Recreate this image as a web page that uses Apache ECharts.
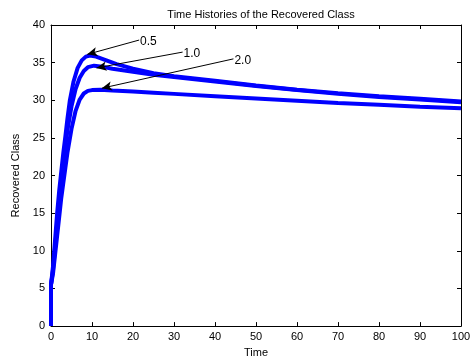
<!DOCTYPE html>
<html>
<head>
<meta charset="utf-8">
<script src="https://cdn.jsdelivr.net/npm/echarts@6/dist/echarts.min.js"></script>
<style>
  html, body { margin: 0; padding: 0; background: #fff; }
  #chart { width: 475px; height: 363px; }
</style>
</head>
<body>
<div id="chart"></div>
<script>
// time points and recovered class values
const t05 = [0, 0, 0.5, 1, 1.5, 2, 2.5, 3, 3.5, 4, 4.6, 5.5, 6.5, 7.5, 8.5, 9.5, 11, 13, 16, 20, 25, 30, 40, 50, 60, 70, 80, 90, 100];
const r05 = [0, 5.5, 8, 11.5, 15, 18, 20.5, 23, 25.2, 27.5, 30, 32.5, 34.3, 35.3, 35.8, 35.95, 35.8, 35.4, 34.8, 34.2, 33.6, 33.2, 32.6, 31.95, 31.4, 30.95, 30.55, 30.2, 29.85];

const t10 = [0, 0, 0.5, 1, 1.5, 2, 2.5, 3, 3.5, 4, 5, 6, 7, 8, 9, 10.5, 12, 15, 20, 25, 30, 40, 50, 60, 70, 80, 90, 100];
const r10 = [0, 5.5, 7.5, 10.5, 13.5, 16.5, 19, 21.5, 23.8, 26, 29.2, 31.5, 33, 33.9, 34.4, 34.6, 34.5, 34.2, 33.8, 33.4, 33.1, 32.5, 31.9, 31.35, 30.85, 30.45, 30.1, 29.75];

const t20 = [0, 0, 0.5, 1, 1.5, 2, 2.5, 3, 3.5, 4, 5, 6, 7, 8, 9, 10, 12, 15, 20, 25, 30, 40, 50, 60, 70, 80, 90, 100];
const r20 = [0, 5.5, 7, 9.5, 12, 14.5, 17, 19, 21, 23, 26.2, 28.6, 30.1, 30.9, 31.25, 31.35, 31.4, 31.3, 31.15, 31.0, 30.85, 30.55, 30.25, 29.95, 29.65, 29.4, 29.15, 28.95];

// annotation labels: text, where the text sits, where the arrow points
const labelNames = ['0.5', '1.0', '2.0'];
const labelFrom = [[21.5, 38.0], [32.1, 36.4], [44.5, 35.5]];
const labelTo = [[8.85, 36.1], [11.1, 34.3], [12.4, 31.6]];

const xTicks = [0, 10, 20, 30, 40, 50, 60, 70, 80, 90, 100];
const yTicks = [0, 5, 10, 15, 20, 25, 30, 35, 40];

const font = 'Liberation Sans, Arial, sans-serif';
const pair = (t, r) => t.map((v, i) => [v, r[i]]);

const chart = echarts.init(document.getElementById('chart'));

const tickStyle = { show: true, inside: true, length: 4, lineStyle: { color: '#000', width: 1 } };

const arrows = labelNames.map((n, i) => [
  { coord: labelFrom[i], name: n },
  { coord: labelTo[i] }
]);

const lineSeries = (name, t, r, withMarks) => {
  const s = {
    name: name,
    type: 'line',
    data: pair(t, r),
    showSymbol: false,
    lineStyle: { color: '#0000ff', width: 4 },
    itemStyle: { color: '#0000ff' },
    animation: false,
    z: 2
  };
  if (withMarks) {
    s.markLine = {
      silent: true,
      animation: false,
      symbol: ['none', 'arrow'],
      symbolSize: [7, 10],
      lineStyle: { color: '#000', width: 1, type: 'solid' },
      label: {
        show: true,
        position: 'start',
        formatter: p => p.name,
        color: '#000',
        fontFamily: font,
        fontSize: 12,
        distance: 1,
        offset: [0, 2]
      },
      data: arrows
    };
  }
  return s;
};

chart.setOption({
  backgroundColor: '#fff',
  title: {
    text: 'Time Histories of the Recovered Class',
    left: 256,
    top: 4,
    textAlign: 'center',
    textStyle: { fontFamily: font, fontSize: 11, fontWeight: 'normal', color: '#000' }
  },
  grid: { left: 51, right: 14, top: 25, bottom: 35, containLabel: false },
  xAxis: [
    {
      type: 'value', min: 0, max: 100, interval: 10,
      name: 'Time', nameLocation: 'middle', nameGap: 19,
      nameTextStyle: { fontFamily: font, fontSize: 11, color: '#000' },
      axisLine: { show: true, onZero: false, lineStyle: { color: '#000', width: 1 } },
      axisTick: tickStyle,
      axisLabel: { fontFamily: font, fontSize: 11, color: '#000', margin: 5 },
      splitLine: { show: false }
    },
    {
      type: 'value', min: 0, max: 100, interval: 10, position: 'top',
      axisLine: { show: true, onZero: false, lineStyle: { color: '#000', width: 1 } },
      axisTick: tickStyle,
      axisLabel: { show: false },
      splitLine: { show: false }
    }
  ],
  yAxis: [
    {
      type: 'value', min: 0, max: 40, interval: 5,
      name: 'Recovered Class', nameLocation: 'middle', nameGap: 28,
      nameTextStyle: { fontFamily: font, fontSize: 11, color: '#000' },
      axisLine: { show: true, onZero: false, lineStyle: { color: '#000', width: 1 } },
      axisTick: tickStyle,
      axisLabel: { fontFamily: font, fontSize: 11, color: '#000', margin: 6 },
      splitLine: { show: false }
    },
    {
      type: 'value', min: 0, max: 40, interval: 5, position: 'right',
      axisLine: { show: true, onZero: false, lineStyle: { color: '#000', width: 1 } },
      axisTick: tickStyle,
      axisLabel: { show: false },
      splitLine: { show: false }
    }
  ],
  series: [
    lineSeries('0.5', t05, r05, true),
    lineSeries('1.0', t10, r10, false),
    lineSeries('2.0', t20, r20, false)
  ]
});
</script>
</body>
</html>
